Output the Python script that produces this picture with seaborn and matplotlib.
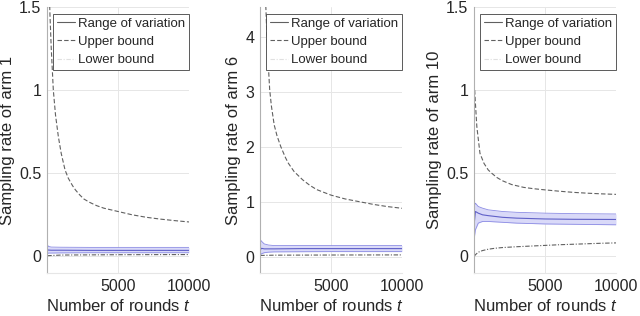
import numpy as np
import pandas as pd
import seaborn as sns
import matplotlib.pyplot as plt
from matplotlib.lines import Line2D

# ---- values ----
arm_names = ["1", "6", "10"]

# upper bound curves
up1_t = [150, 210, 300, 445, 600, 800, 1000, 1270, 1500, 1800, 2000, 2300, 2600, 3000, 3500, 4000, 4500, 5000, 6000, 7000, 8000, 9000, 10000]
up1_v = [1.62, 1.45, 1.25, 1.0, 0.85, 0.72, 0.62, 0.52, 0.47, 0.425, 0.40, 0.37, 0.345, 0.325, 0.305, 0.29, 0.28, 0.27, 0.25, 0.235, 0.224, 0.215, 0.207]

up6_t = [380, 420, 500, 680, 800, 1000, 1200, 1470, 1800, 2000, 2400, 3000, 3500, 4000, 4500, 5000, 6000, 7000, 8000, 9000, 10000]
up6_v = [4.7, 4.5, 3.9, 3.05, 2.75, 2.4, 2.2, 2.0, 1.8, 1.7, 1.55, 1.4, 1.3, 1.22, 1.17, 1.12, 1.05, 1.0, 0.95, 0.91, 0.88]

up10_t = [50, 100, 200, 420, 700, 1000, 1250, 1600, 2000, 2650, 3500, 4200, 5000, 6000, 7000, 8000, 9000, 10000]
up10_v = [1.0, 0.92, 0.78, 0.62, 0.56, 0.52, 0.5, 0.475, 0.455, 0.432, 0.415, 0.407, 0.40, 0.392, 0.385, 0.38, 0.376, 0.373]

# lower bound curves
lo1_t = [20, 1000, 5000, 10000]
lo1_v = [0.004, 0.008, 0.01, 0.011]

lo6_t = [20, 1000, 5000, 10000]
lo6_v = [0.02, 0.025, 0.028, 0.03]

lo10_t = [20, 100, 300, 600, 1000, 1500, 2000, 3000, 4000, 5000, 6000, 7000, 8000, 9000, 10000]
lo10_v = [0.0, 0.01, 0.025, 0.035, 0.043, 0.049, 0.053, 0.058, 0.062, 0.066, 0.07, 0.073, 0.076, 0.079, 0.081]

# range of variation (low / mean / high)
rg1_t = [20, 100, 300, 1000, 3000, 5000, 10000]
rg1_lo = [0.015, 0.02, 0.02, 0.021, 0.022, 0.022, 0.022]
rg1_mid = [0.04, 0.038, 0.037, 0.037, 0.036, 0.036, 0.036]
rg1_hi = [0.07, 0.06, 0.056, 0.055, 0.054, 0.054, 0.054]

rg6_t = [20, 100, 300, 600, 1000, 3000, 5000, 10000]
rg6_lo = [0.03, 0.05, 0.07, 0.08, 0.085, 0.088, 0.09, 0.09]
rg6_mid = [0.12, 0.15, 0.14, 0.14, 0.14, 0.145, 0.145, 0.145]
rg6_hi = [0.31, 0.28, 0.23, 0.21, 0.2, 0.2, 0.2, 0.2]

rg10_t = [20, 100, 300, 600, 1000, 2000, 3000, 5000, 7000, 10000]
rg10_lo = [0.11, 0.16, 0.2, 0.21, 0.21, 0.205, 0.2, 0.195, 0.193, 0.19]
rg10_mid = [0.2, 0.27, 0.26, 0.25, 0.245, 0.235, 0.23, 0.225, 0.223, 0.222]
rg10_hi = [0.3, 0.32, 0.3, 0.29, 0.28, 0.27, 0.265, 0.26, 0.257, 0.255]

ylims = [(-0.1, 1.5), (-0.3, 4.55), (-0.1, 1.5)]
yticks = [[0, 0.5, 1, 1.5], [0, 1, 2, 3, 4], [0, 0.5, 1, 1.5]]
ytick_labels = [["0", "0.5", "1", "1.5"], ["0", "1", "2", "3", "4"], ["0", "0.5", "1", "1.5"]]

panels = [
    (up1_t, up1_v, lo1_t, lo1_v, rg1_t, rg1_lo, rg1_mid, rg1_hi),
    (up6_t, up6_v, lo6_t, lo6_v, rg6_t, rg6_lo, rg6_mid, rg6_hi),
    (up10_t, up10_v, lo10_t, lo10_v, rg10_t, rg10_lo, rg10_mid, rg10_hi),
]

sns.set_style("whitegrid")
plt.rcParams["font.family"] = ["Liberation Sans", "DejaVu Sans"]
plt.rcParams["mathtext.fontset"] = "custom"
plt.rcParams["mathtext.it"] = "Liberation Sans:italic"

fig = plt.figure(figsize=(6.4, 3.16), dpi=100)
lefts = [47 / 640, 260 / 640, 474 / 640]
dark = "#606060"
blue_fill = "#d9d9f8"
blue_line = "#8c8ce4"

for i, (ut, uv, lt, lv, rt, rlo, rmid, rhi) in enumerate(panels):
    ax = fig.add_axes([lefts[i], 43 / 316, 142 / 640, 266 / 316])
    ax.fill_between(rt, rlo, rhi, color=blue_fill, lw=0)
    sns.lineplot(x=rt, y=rlo, ax=ax, color=blue_line, lw=0.6)
    sns.lineplot(x=rt, y=rhi, ax=ax, color=blue_line, lw=0.6)
    sns.lineplot(x=rt, y=rmid, ax=ax, color="#6060c8", lw=0.8)
    sns.lineplot(x=ut, y=uv, ax=ax, color=dark, lw=0.8, linestyle=(0, (4, 2)))
    sns.lineplot(x=lt, y=lv, ax=ax, color=dark, lw=0.8, linestyle=(0, (4, 1.5, 1, 1.5)))

    ax.set_xlim(0, 10000)
    ax.set_ylim(*ylims[i])
    ax.set_xticks([5000, 10000])
    ax.set_xticklabels(["5000", "10000"])
    ax.set_yticks(yticks[i])
    ax.set_yticklabels(ytick_labels[i])
    ax.grid(True, color="#e6e6e6", lw=0.7)
    ax.tick_params(labelsize=11.5, colors="#262626", length=2, direction="in", pad=4)
    for side in ["top", "right"]:
        ax.spines[side].set_visible(False)
    ax.spines["left"].set_color("#b0b0b0")
    ax.spines["bottom"].set_color("#e6e6e6")
    ax.set_xlabel("Number of rounds $t$", fontsize=12, color="#262626", labelpad=3)
    ax.set_ylabel("Sampling rate of arm " + arm_names[i], fontsize=12, color="#262626", labelpad=3)

    handles = [
        Line2D([], [], color=dark, lw=0.8),
        Line2D([], [], color=dark, lw=0.8, linestyle=(0, (4, 2))),
        Line2D([], [], color="#e0e0e0", lw=0.8, linestyle=(0, (4, 1.5, 1, 1.5))),
    ]
    leg = ax.legend(handles, ["Range of variation", "Upper bound", "Lower bound"],
                    loc="upper left", bbox_to_anchor=(0.04, 0.975), fontsize=9.5,
                    frameon=True, fancybox=False, framealpha=1, handlelength=1.4,
                    handletextpad=0.2, borderpad=0.3, labelspacing=0.45, borderaxespad=0)
    leg.get_frame().set_edgecolor("#404040")
    leg.get_frame().set_linewidth(0.6)

fig.savefig("out.png", dpi=100)
